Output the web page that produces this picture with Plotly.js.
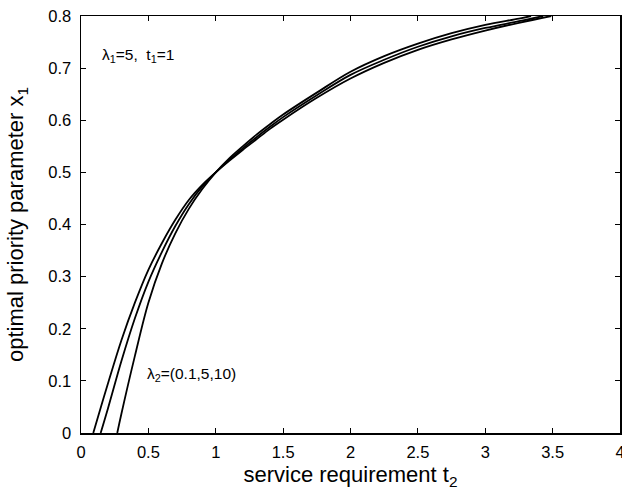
<!DOCTYPE html>
<html>
<head>
<meta charset="utf-8">
<script src="https://cdn.plot.ly/plotly-3.0.1.min.js"></script>
<style>html,body{margin:0;padding:0;background:#fff;}</style>
</head>
<body>
<div id="chart" style="width:622px;height:494px;"></div>
<script>
// Curve for lambda2 = 0.1 (smallest x-intercept)
var curveA_t2 = [0.091, 0.15, 0.2, 0.3, 0.4, 0.5, 0.6, 0.7, 0.8, 0.9, 1.0, 1.1, 1.2, 1.3, 1.4, 1.5, 1.75, 2.0, 2.25, 2.5, 2.75, 3.0, 3.25, 3.49];
var curveA_x1 = [0.0, 0.052, 0.095, 0.178, 0.25, 0.313, 0.364, 0.409, 0.447, 0.476, 0.5, 0.522, 0.543, 0.563, 0.583, 0.601, 0.643, 0.680, 0.710, 0.735, 0.755, 0.772, 0.787, 0.8];
// Curve for lambda2 = 5
var curveB_t2 = [0.146, 0.2, 0.3, 0.4, 0.5, 0.6, 0.7, 0.8, 0.9, 1.0, 1.1, 1.2, 1.3, 1.4, 1.5, 1.75, 2.0, 2.25, 2.5, 2.75, 3.0, 3.25, 3.43];
var curveB_x1 = [0.0, 0.047, 0.138, 0.22, 0.29, 0.347, 0.397, 0.439, 0.473, 0.5, 0.524, 0.546, 0.567, 0.587, 0.606, 0.648, 0.687, 0.716, 0.741, 0.761, 0.777, 0.790, 0.8];
// Curve for lambda2 = 10
var curveC_t2 = [0.269, 0.3, 0.4, 0.5, 0.6, 0.7, 0.8, 0.9, 1.0, 1.1, 1.2, 1.3, 1.4, 1.5, 1.75, 2.0, 2.25, 2.5, 2.75, 3.0, 3.25, 3.34];
var curveC_x1 = [0.0, 0.037, 0.148, 0.25, 0.325, 0.383, 0.43, 0.468, 0.5, 0.527, 0.55, 0.572, 0.592, 0.611, 0.653, 0.693, 0.723, 0.747, 0.767, 0.783, 0.795, 0.8];

var xTicks = [0, 0.5, 1, 1.5, 2, 2.5, 3, 3.5, 4];
var xTickLabels = ['0', '0.5', '1', '1.5', '2', '2.5', '3', '3.5', '4'];
var yTicks = [0, 0.1, 0.2, 0.3, 0.4, 0.5, 0.6, 0.7, 0.8];
var yTickLabels = ['0', '0.1', '0.2', '0.3', '0.4', '0.5', '0.6', '0.7', '0.8'];

var lineStyle = {color: '#000', width: 1.8, shape: 'spline', smoothing: 1};
var traces = [
  {x: curveA_t2, y: curveA_x1, mode: 'lines', line: lineStyle, hoverinfo: 'skip'},
  {x: curveB_t2, y: curveB_x1, mode: 'lines', line: lineStyle, hoverinfo: 'skip'},
  {x: curveC_t2, y: curveC_x1, mode: 'lines', line: lineStyle, hoverinfo: 'skip'}
];

var fontFam = 'Liberation Sans, Arial, sans-serif';
var layout = {
  width: 622, height: 494,
  margin: {l: 81, r: 2, t: 16, b: 61},
  paper_bgcolor: '#fff', plot_bgcolor: '#fff',
  showlegend: false,
  font: {family: fontFam, color: '#000', size: 16},
  xaxis: {
    range: [0, 4], tickvals: xTicks, ticktext: xTickLabels,
    ticks: 'inside', ticklen: 5, tickwidth: 1, tickcolor: '#000',
    showline: true, linecolor: '#000', linewidth: 1.5, mirror: 'ticks',
    showgrid: false, zeroline: false, ticklabeloverflow: 'allow',
    tickfont: {size: 16.5}, ticklabelstandoff: 4,
    title: {text: 'service requirement t<sub>2</sub>', font: {size: 22}, standoff: 6}
  },
  yaxis: {
    range: [0, 0.8], tickvals: yTicks, ticktext: yTickLabels,
    ticks: 'inside', ticklen: 5, tickwidth: 1, tickcolor: '#000',
    showline: true, linecolor: '#000', linewidth: 1.5, mirror: 'ticks',
    showgrid: false, zeroline: false, ticklabeloverflow: 'allow',
    tickfont: {size: 16.5}, ticklabelstandoff: 5,
    title: {text: 'optimal priority parameter x<sub>1</sub>', font: {size: 22}, standoff: 18}
  },
  annotations: [
    {x: 0.141, y: 0.724, xref: 'x', yref: 'y', xanchor: 'left', yanchor: 'middle',
     text: 'λ<sub>1</sub>=5,  t<sub>1</sub>=1', showarrow: false, font: {size: 15.5}},
    {x: 0.475, y: 0.113, xref: 'x', yref: 'y', xanchor: 'left', yanchor: 'middle',
     text: 'λ<sub>2</sub>=(0.1,5,10)', showarrow: false, font: {size: 15.5}}
  ]
};

Plotly.newPlot('chart', traces, layout, {displayModeBar: false, staticPlot: true});
</script>
</body>
</html>
